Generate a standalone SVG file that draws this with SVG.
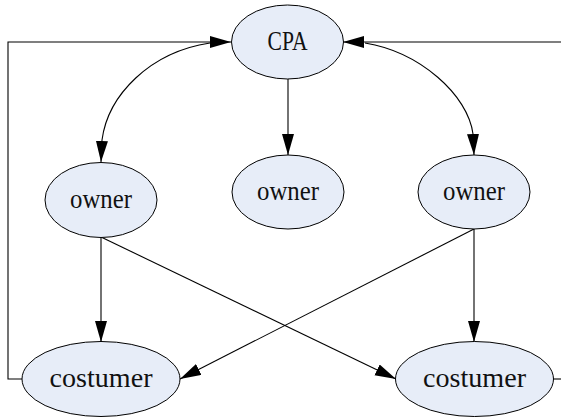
<svg xmlns="http://www.w3.org/2000/svg" width="561" height="418" viewBox="0 0 561 418">
  <style>
    .node ellipse { fill: #e7edf8; stroke: #000; stroke-width: 1; }
    .node text { font-family: "Liberation Serif", "DejaVu Serif", serif; font-size: 27px; fill: #111; text-anchor: middle; }
    .edges path { fill: none; stroke: #000; stroke-width: 1.1; }
    .arrow { marker-end: url(#head); }
  </style>
  <defs>
    <marker id="head" markerUnits="userSpaceOnUse" markerWidth="22" markerHeight="13" refX="21" refY="6" orient="auto">
      <path d="M0,0 L21,6 L0,12 z" fill="#000"/>
    </marker>
  </defs>

  <g class="edges">
    <!-- CPA to middle owner -->
    <path class="arrow" d="M288,79 V155"/>
    <!-- CPA / left owner (CPA-side head comes from the loop line) -->
    <path class="arrow" d="M210,43 C150,52 108,95 102,140 L101,162"/>
    <!-- CPA / right owner (CPA-side head comes from the loop line) -->
    <path class="arrow" d="M365,43 C420,52 468,95 473,134 L474,155"/>
    <!-- loop from right costumer back into CPA -->
    <path class="arrow" d="M561,42 H343"/>
    <path d="M553,379 H561"/>
    <!-- loop from left costumer back into CPA -->
    <path class="arrow" d="M22,379 H8 V42 H231"/>
    <!-- owners to costumers -->
    <path class="arrow" d="M101,237 V342"/>
    <path class="arrow" d="M101,237 L396,379"/>
    <path class="arrow" d="M474,229 V342"/>
    <path class="arrow" d="M474,229 L180,379"/>
  </g>

  <g id="cpa" class="node">
    <ellipse cx="287.5" cy="42" rx="56" ry="37"/>
    <text x="287.5" y="49.5" textLength="40" lengthAdjust="spacingAndGlyphs">CPA</text>
  </g>
  <g id="owner-left" class="node">
    <ellipse cx="101" cy="200" rx="56" ry="37.5"/>
    <text x="101" y="207.5" textLength="62" lengthAdjust="spacingAndGlyphs">owner</text>
  </g>
  <g id="owner-middle" class="node">
    <ellipse cx="288" cy="192" rx="56" ry="37"/>
    <text x="288" y="199.5" textLength="62" lengthAdjust="spacingAndGlyphs">owner</text>
  </g>
  <g id="owner-right" class="node">
    <ellipse cx="474" cy="192" rx="56" ry="37"/>
    <text x="474" y="199.5" textLength="62" lengthAdjust="spacingAndGlyphs">owner</text>
  </g>
  <g id="costumer-left" class="node">
    <ellipse cx="101" cy="379" rx="79" ry="37.5"/>
    <text x="101" y="386.5" textLength="103" lengthAdjust="spacingAndGlyphs">costumer</text>
  </g>
  <g id="costumer-right" class="node">
    <ellipse cx="474.5" cy="379" rx="79" ry="37.5"/>
    <text x="474.5" y="386.5" textLength="103" lengthAdjust="spacingAndGlyphs">costumer</text>
  </g>
</svg>
